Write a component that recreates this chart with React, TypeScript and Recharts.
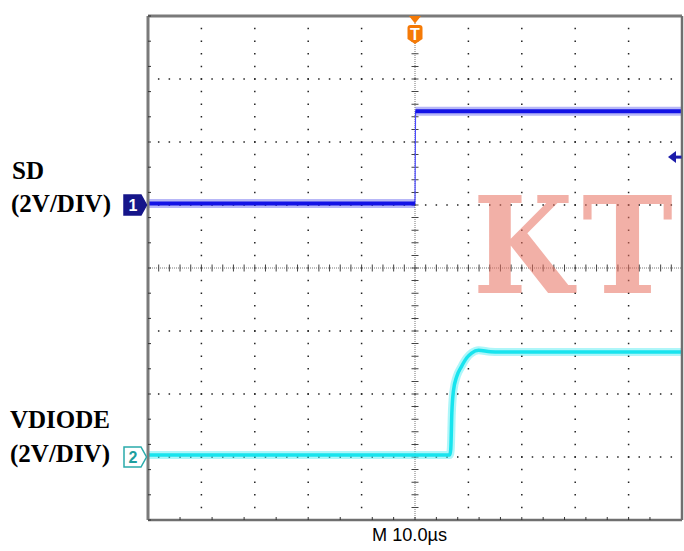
import { LineChart, Line, XAxis, YAxis, ReferenceLine, ReferenceDot } from 'recharts';

// time in µs (10 µs/div, trigger at 0), levels in volts
const SD_TIME = [-50, 0, 0.1, 50];
const SD_VOLTS = [0.05, 0.05, 2.98, 2.98];

const VD_TIME = [-50, 6.5, 6.7, 6.9, 7.2, 7.8, 8.7, 9.7, 10.6, 11.9, 14.1, 15.9, 50];
const VD_VOLTS = [0.06, 0.06, 0.25, 1.4, 2.1, 2.55, 2.87, 3.15, 3.3, 3.39, 3.34, 3.33, 3.33];

const VOLTS_PER_DIV = 2;
const SD_GROUND_DIV = 1;
const VD_GROUND_DIV = -3;
const SD_TRIGGER_LEVEL = 1.52;

const GRID_TIMES = [-40, -30, -20, -10, 10, 20, 30, 40];
const GRID_DIVS = [-3, -2, -1, 1, 2, 3];
const MINOR_TIME_TICKS = Array.from({ length: 51 }, (_, i) => -50 + i * 2);
const MINOR_DIV_TICKS = Array.from({ length: 41 }, (_, i) => -4 + i * 0.2);

const SD_COLOR = '#1212e6';
const VD_COLOR = '#18e4ee';

const toRows = (times: number[], volts: number[], ground: number) =>
  times.map((t, i) => ({ t, y: ground + volts[i] / VOLTS_PER_DIV }));

const sdRows = toRows(SD_TIME, SD_VOLTS, SD_GROUND_DIV);
const sdLow = sdRows.slice(0, 2);
const sdHigh = sdRows.slice(2);
const vdRows = toRows(VD_TIME, VD_VOLTS, VD_GROUND_DIV);

// graticule ticks only, no labels
const NoLabel = () => <g />;

const ChannelTag = (props: any) => {
  const { cx, cy, label, fill, stroke, color } = props;
  return (
    <g>
      <path
        d={`M${cx - 24},${cy - 10} H${cx - 7} L${cx - 1.5},${cy} L${cx - 7},${cy + 10} H${cx - 24} Z`}
        fill={fill}
        stroke={stroke}
        strokeWidth={1.5}
      />
      <text x={cx - 15} y={cy + 6} textAnchor="middle" fontFamily="Liberation Sans" fontWeight="bold" fontSize={16} fill={color}>
        {label}
      </text>
    </g>
  );
};

const TriggerMark = (props: any) => {
  const { cx, cy } = props;
  const c = '#f57a06';
  return (
    <g>
      <path d={`M${cx - 6},${cy} L${cx + 6},${cy} L${cx},${cy + 7.5} Z`} fill={c} />
      <path
        d={`M${cx - 7.5},${cy + 12} Q${cx - 7.5},${cy + 9} ${cx - 4.5},${cy + 9} H${cx + 4.5} Q${cx + 7.5},${cy + 9} ${cx + 7.5},${cy + 12} V${cy + 23} L${cx},${cy + 28} L${cx - 7.5},${cy + 23} Z`}
        fill={c}
      />
      <text x={cx} y={cy + 23.5} textAnchor="middle" fontFamily="Liberation Sans" fontWeight="bold" fontSize={16} fill="#fff">
        T
      </text>
    </g>
  );
};

const LevelArrow = (props: any) => {
  const { cx, cy } = props;
  return (
    <g fill="#1c1caa">
      <path d={`M${cx - 14},${cy} L${cx - 6},${cy - 6} L${cx - 6},${cy + 6} Z`} />
      <rect x={cx - 7} y={cy - 1.5} width={6.5} height={3} />
    </g>
  );
};

const axisIds = { xAxisId: 't', yAxisId: 'v' };

export default function App() {
  return (
    <div style={{ position: 'absolute', left: 0, top: 0, width: 684, height: 551, background: '#fff' }}>
      <LineChart width={684} height={551} margin={{ top: 16, right: 2, bottom: 31, left: 148 }}>
        <XAxis
          xAxisId="t"
          type="number"
          dataKey="t"
          domain={[-50, 50]}
          ticks={MINOR_TIME_TICKS}
          orientation="bottom"
          mirror
          height={10}
          tick={<NoLabel />}
          tickSize={3}
          tickLine={{ stroke: '#333' }}
          axisLine={{ stroke: '#6f6f6f', strokeWidth: 2.5 }}
        />
        <XAxis
          xAxisId="top"
          type="number"
          domain={[-50, 50]}
          ticks={MINOR_TIME_TICKS}
          orientation="top"
          mirror
          height={10}
          tick={<NoLabel />}
          tickSize={3}
          tickLine={{ stroke: '#333' }}
          axisLine={{ stroke: '#7a7a7a', strokeWidth: 3 }}
        />
        <YAxis
          yAxisId="v"
          type="number"
          domain={[-4, 4]}
          ticks={MINOR_DIV_TICKS}
          orientation="left"
          mirror
          width={10}
          tick={<NoLabel />}
          tickSize={3}
          tickLine={{ stroke: '#333' }}
          axisLine={{ stroke: '#7a7a7a', strokeWidth: 3 }}
        />
        <YAxis
          yAxisId="right"
          type="number"
          domain={[-4, 4]}
          ticks={MINOR_DIV_TICKS}
          orientation="right"
          mirror
          width={10}
          tick={<NoLabel />}
          tickSize={3}
          tickLine={{ stroke: '#333' }}
          axisLine={{ stroke: '#6f6f6f', strokeWidth: 2.5 }}
        />

        {GRID_DIVS.map((d) => (
          <ReferenceLine key={`h${d}`} {...axisIds} y={d} stroke="#222" strokeWidth={1.5} strokeDasharray="1.5 9.18" strokeDashoffset={0.75} />
        ))}
        {GRID_TIMES.map((t) => (
          <ReferenceLine key={`v${t}`} {...axisIds} x={t} stroke="#222" strokeWidth={1.5} strokeDasharray="1.5 11.1" strokeDashoffset={0.75} />
        ))}

        {/* center cross: fine dotted line plus minor tick marks */}
        <ReferenceLine {...axisIds} y={0} stroke="#777" strokeWidth={1} strokeDasharray="1 1" />
        <ReferenceLine {...axisIds} y={0} stroke="#444" strokeWidth={7} strokeDasharray="1 9.68" strokeDashoffset={0.5} />
        <ReferenceLine {...axisIds} x={0} stroke="#777" strokeWidth={1} strokeDasharray="1 1" />
        <ReferenceLine {...axisIds} x={0} stroke="#444" strokeWidth={7} strokeDasharray="1 11.6" strokeDashoffset={0.5} />

        {/* SD: thin edge through the whole record, noisy band on the flat parts */}
        <Line {...axisIds} data={sdRows} dataKey="y" type="linear" stroke="#4a4aff" strokeWidth={1.2} dot={false} activeDot={false} isAnimationActive={false} />
        {[sdLow, sdHigh].map((seg, i) => (
          <Line key={`sdh${i}`} {...axisIds} data={seg} dataKey="y" type="linear" stroke={SD_COLOR} strokeOpacity={0.3} strokeWidth={9} dot={false} activeDot={false} isAnimationActive={false} />
        ))}
        {[sdLow, sdHigh].map((seg, i) => (
          <Line key={`sdc${i}`} {...axisIds} data={seg} dataKey="y" type="linear" stroke={SD_COLOR} strokeWidth={4} dot={false} activeDot={false} isAnimationActive={false} />
        ))}

        {/* VDIODE */}
        <Line {...axisIds} data={vdRows} dataKey="y" type="monotone" stroke={VD_COLOR} strokeOpacity={0.35} strokeWidth={8} dot={false} activeDot={false} isAnimationActive={false} />
        <Line {...axisIds} data={vdRows} dataKey="y" type="monotone" stroke={VD_COLOR} strokeWidth={3.5} dot={false} activeDot={false} isAnimationActive={false} />

        <ReferenceDot {...axisIds} x={-50} y={SD_GROUND_DIV} ifOverflow="visible" shape={(p: any) => <ChannelTag {...p} label="1" fill="#16168a" stroke="#16168a" color="#fff" />} />
        <ReferenceDot {...axisIds} x={-50} y={VD_GROUND_DIV} ifOverflow="visible" shape={(p: any) => <ChannelTag {...p} label="2" fill="#fff" stroke="#2aabab" color="#1e9e9e" />} />
        <ReferenceDot {...axisIds} x={0} y={4} ifOverflow="visible" shape={(p: any) => <TriggerMark {...p} />} />
        <ReferenceDot {...axisIds} x={50} y={SD_GROUND_DIV + SD_TRIGGER_LEVEL / VOLTS_PER_DIV} ifOverflow="visible" shape={(p: any) => <LevelArrow {...p} />} />
      </LineChart>

      <svg width={684} height={551} style={{ position: 'absolute', left: 0, top: 0, pointerEvents: 'none' }}>
        <g fontFamily="Liberation Serif" fontWeight="bold" fontSize={25} fill="#000">
          <text x={12} y={179}>SD</text>
          <text x={11} y={212}>(2V/DIV)</text>
          <text x={10} y={428}>VDIODE</text>
          <text x={10} y={462}>(2V/DIV)</text>
        </g>
        <text x={372} y={541} fontFamily="Liberation Sans" fontSize={18} textLength={75} lengthAdjust="spacingAndGlyphs" fill="#000">
          M 10.0µs
        </text>
        <g fontFamily="DejaVu Serif" fontWeight="bold" fontSize={134} fill="#e8705f" fillOpacity={0.55}>
          <text x={473} y={293} textLength={100} lengthAdjust="spacingAndGlyphs">K</text>
          <text x={582} y={293} textLength={91} lengthAdjust="spacingAndGlyphs">T</text>
        </g>
      </svg>
    </div>
  );
}
